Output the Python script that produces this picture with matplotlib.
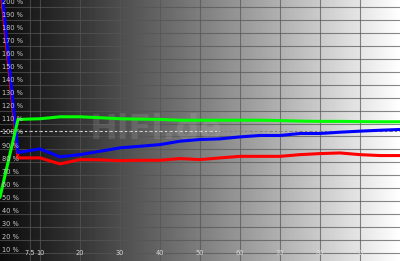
import numpy as np
import matplotlib
matplotlib.use('Agg')
import matplotlib.pyplot as plt
from matplotlib.collections import LineCollection

# stimulus level in %, and measured level of each channel in %
levels = [0, 4.5, 10, 15, 20, 25, 30, 35, 40, 45, 50, 55, 60,
          65, 70, 75, 80, 85, 90, 95, 100]
red = [215, 79.0, 79.0, 74.4, 77.7, 77.5, 76.9, 77.2, 77.2, 78.5, 77.7,
       79.0, 80.2, 80.2, 80.2, 81.5, 82.3, 82.8, 81.5, 80.8, 80.8]
green = [49, 108.5, 109.0, 110.5, 110.5, 109.8, 109.0, 108.7, 108.5, 107.9,
         107.9, 107.9, 107.9, 107.9, 107.6, 107.2, 107.0, 107.0, 106.8, 106.7, 106.7]
blue = [222, 83.1, 85.9, 79.8, 81.5, 84.1, 86.7, 87.9, 89.2, 91.8, 93.1,
        93.6, 95.1, 96.2, 96.2, 97.7, 97.7, 98.7, 99.5, 100.2, 100.8]

x_ticks = [7.5, 10, 20, 30, 40, 50, 60, 70, 80, 90]
y_ticks = list(range(10, 201, 10))
target = 100

fig = plt.figure(figsize=(4.0, 2.61), dpi=100)
ax = fig.add_axes([0, 0, 1, 1])
ax.set_xlim(0, 100)
ax.set_ylim(0, 200)
ax.axis('off')

# grey ramp background, dark on the left to white on the right
ramp = np.linspace(0, 1, 400)
shade = 0.05 + 0.95 * ramp ** 1.1
ax.imshow(np.tile(shade, (2, 1)), cmap='gray', vmin=0, vmax=1,
          extent=[0, 100, 0, 200], aspect='auto', zorder=0)

grid_kw = dict(color='#555555', alpha=0.7, lw=0.8, zorder=1)
for gx in x_ticks:
    ax.axvline(gx, **grid_kw)
for gy in np.linspace(194.6, 6.2, 20):
    ax.axhline(gy, **grid_kw)

# dashed 100 % reference, light on the dark side, darker on the bright side
xs = np.linspace(0, 100, 41)
segs = [[(xs[i], target), (xs[i + 1], target)] for i in range(len(xs) - 1)]
cols = [(c, c, c) for c in np.where(xs[:-1] < 55, 0.85, 0.5)]
ax.add_collection(LineCollection(segs, colors=cols, linewidths=0.8,
                                 linestyles=(0, (2, 2)), zorder=2))

ax.text(39, 101, 'HiFi.de', fontsize=24, fontweight='bold', color='#d0d0d0',
        alpha=0.15, ha='center', va='center', zorder=2)

ax.plot(levels, red, color='#ff0000', lw=2.2, zorder=3)
ax.plot(levels, blue, color='#0000ff', lw=2.2, zorder=4)
ax.plot(levels, green, color='#00ff00', lw=2.2, zorder=5)

for v in y_ticks:
    ax.text(0.5, v - 1.5, f'{v} %', fontsize=4.8, color='#c8c8c8',
            ha='left', va='center', zorder=6)
for v in x_ticks:
    ax.text(v, 6.2, f'{v:g}', fontsize=4.8, color='#d8d8d8',
            ha='center', va='center', zorder=6)

fig.savefig('out.png', dpi=100)
